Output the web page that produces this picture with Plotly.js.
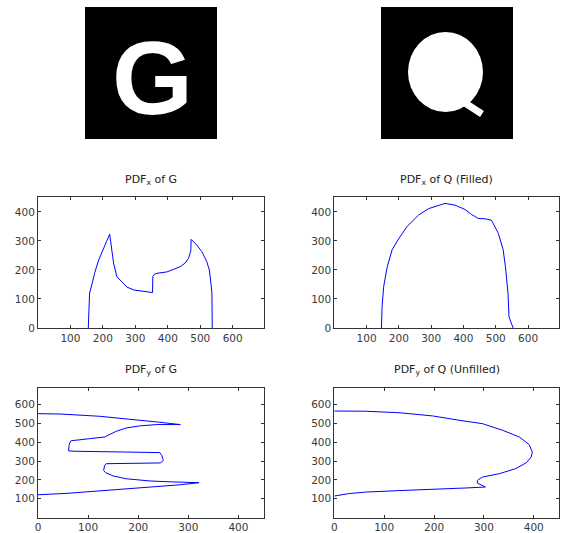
<!DOCTYPE html>
<html>
<head>
<meta charset="utf-8">
<script src="https://cdn.plot.ly/plotly-3.0.1.min.js"></script>
<style>html,body{margin:0;padding:0;background:#fff;}#chart{width:564px;height:533px;}</style>
</head>
<body>
<div id="chart"></div>
<script>
// PDF_x of G
var gxX = [155, 156, 159, 167, 175, 187, 197, 211, 221, 226, 233, 243, 259, 274, 295, 325, 351, 353, 354, 360, 370, 397, 418, 438, 453, 464, 471, 472, 489, 505, 520, 528, 533, 536, 537];
var gxY = [0, 51, 120, 154, 191, 234, 263, 297, 323, 280, 223, 177, 157, 141, 131, 125, 122, 122, 178, 186, 189, 193, 202, 211, 223, 240, 266, 305, 286, 263, 229, 200, 154, 120, 0];
// PDF_x of Q (Filled)
var qxX = [146, 148, 153, 164, 179, 197, 225, 261, 292, 320, 343, 374, 405, 425, 446, 467, 487, 492, 508, 523, 530, 538, 541, 548, 554];
var qxY = [0, 74, 143, 211, 269, 303, 349, 389, 411, 422, 429, 423, 408, 391, 377, 376, 371, 360, 326, 269, 211, 120, 40, 17, 0];
// PDF_y of G
var gyP = [0, 46, 123, 190, 237, 284, 237, 203, 176, 156, 143, 133, 103, 66, 64, 62, 61, 76, 176, 243, 247, 250, 245, 190, 136, 133, 131, 135, 150, 176, 224, 270, 321, 284, 243, 190, 123, 56, 0];
var gyY = [552, 550, 538, 522, 508, 494, 494, 487, 476, 458, 440, 428, 419, 408, 401, 384, 354, 352, 348, 345, 330, 304, 290, 288, 286, 277, 251, 238, 221, 206, 194, 189, 185, 174, 166, 153, 139, 128, 121];
// PDF_y of Q (Unfilled)
var qyP = [0, 62, 130, 197, 250, 297, 338, 371, 391, 397, 395, 385, 364, 331, 297, 287, 287, 297, 303, 264, 197, 130, 62, 29, 0];
var qyY = [566, 565, 557, 540, 517, 499, 463, 428, 387, 348, 322, 291, 260, 233, 215, 197, 183, 167, 162, 157, 148, 143, 135, 127, 114];

var titles = ['PDF<sub>x</sub> of G', 'PDF<sub>x</sub> of Q (Filled)', 'PDF<sub>y</sub> of G', 'PDF<sub>y</sub> of Q (Unfilled)'];
var xTicksRow2 = [100, 200, 300, 400, 500, 600];
var yTicksRow2 = [0, 100, 200, 300, 400];
var xTicksRow3 = [0, 100, 200, 300, 400];
var yTicksRow3 = [100, 200, 300, 400, 500, 600];

var W = 564, H = 533;
function px(x){return x / W;}
function py(y){return (H - y) / H;}

var lineStyle = {color: '#0000ff', width: 1};
var traces = [
  {x: gxX, y: gxY, xaxis: 'x', yaxis: 'y', mode: 'lines', line: lineStyle, hoverinfo: 'skip'},
  {x: qxX, y: qxY, xaxis: 'x2', yaxis: 'y2', mode: 'lines', line: lineStyle, hoverinfo: 'skip'},
  {x: gyP, y: gyY, xaxis: 'x3', yaxis: 'y3', mode: 'lines', line: lineStyle, hoverinfo: 'skip'},
  {x: qyP, y: qyY, xaxis: 'x4', yaxis: 'y4', mode: 'lines', line: lineStyle, hoverinfo: 'skip'},
  {x: [], y: [], xaxis: 'x5', yaxis: 'y5', mode: 'markers', hoverinfo: 'skip'},
  {x: [], y: [], xaxis: 'x6', yaxis: 'y6', mode: 'markers', hoverinfo: 'skip'}
];

var tickFont = {family: 'DejaVu Sans', size: 10.5, color: '#3a3a3a'};
function ax(domain, range, ticks, anchor) {
  return {
    domain: domain, range: range, anchor: anchor,
    tickmode: 'array', tickvals: ticks, ticktext: ticks.map(String),
    ticks: 'inside', ticklen: 3, tickcolor: '#333', tickwidth: 1,
    showline: true, linecolor: '#333', linewidth: 1, mirror: 'allticks',
    showgrid: false, zeroline: false, tickfont: tickFont, fixedrange: true
  };
}
var colL = [px(38), px(263.5)], colR = [px(334.3), px(558.7)];
var row2 = [py(328), py(197.3)], row3 = [py(517.5), py(387.7)];
var hid = function(domain, range, anchor){return {domain: domain, range: range, anchor: anchor, visible: false, fixedrange: true};};

var layout = {
  width: W, height: H,
  margin: {l: 0, r: 0, t: 0, b: 0},
  paper_bgcolor: '#ffffff', plot_bgcolor: 'rgba(0,0,0,0)',
  showlegend: false,
  font: {family: 'DejaVu Sans', color: '#222'},
  xaxis: ax(colL, [0, 695], xTicksRow2, 'y'),
  yaxis: ax(row2, [0, 450], yTicksRow2, 'x'),
  xaxis2: ax(colR, [0, 695], xTicksRow2, 'y2'),
  yaxis2: ax(row2, [0, 450], yTicksRow2, 'x2'),
  xaxis3: ax(colL, [0, 450], xTicksRow3, 'y3'),
  yaxis3: ax(row3, [0, 690], yTicksRow3, 'x3'),
  xaxis4: ax(colR, [0, 450], xTicksRow3, 'y4'),
  yaxis4: ax(row3, [0, 690], yTicksRow3, 'x4'),
  xaxis5: hid([px(85), px(217)], [0, 132], 'y5'),
  yaxis5: hid([py(139), py(7)], [132, 0], 'x5'),
  xaxis6: hid([px(381), px(513)], [0, 132], 'y6'),
  yaxis6: hid([py(139), py(7)], [132, 0], 'x6'),
  shapes: [
    {type: 'rect', xref: 'x5 domain', yref: 'y5 domain', x0: 0, x1: 1, y0: 0, y1: 1, fillcolor: '#000', line: {width: 0}, layer: 'below'},
    {type: 'rect', xref: 'x6 domain', yref: 'y6 domain', x0: 0, x1: 1, y0: 0, y1: 1, fillcolor: '#000', line: {width: 0}, layer: 'below'},
    {type: 'circle', xref: 'x6', yref: 'y6', x0: 27, x1: 102, y0: 25, y1: 105, fillcolor: '#fff', line: {width: 0}},
    {type: 'line', xref: 'x6', yref: 'y6', x0: 84, y0: 96, x1: 101, y1: 107, line: {color: '#fff', width: 7}}
  ],
  annotations: [
    {xref: 'x5', yref: 'y5', x: 67, y: 71, text: 'G', showarrow: false, xanchor: 'center', yanchor: 'middle',
     font: {family: 'Liberation Sans', size: 104, color: '#fff', weight: 'bold'}},
    {xref: 'paper', yref: 'paper', x: px(150.75), y: py(180), text: titles[0], showarrow: false, xanchor: 'center', yanchor: 'middle', font: {family: 'DejaVu Sans', size: 11, color: '#222'}},
    {xref: 'paper', yref: 'paper', x: px(446.5), y: py(180), text: titles[1], showarrow: false, xanchor: 'center', yanchor: 'middle', font: {family: 'DejaVu Sans', size: 11, color: '#222'}},
    {xref: 'paper', yref: 'paper', x: px(150.75), y: py(370), text: titles[2], showarrow: false, xanchor: 'center', yanchor: 'middle', font: {family: 'DejaVu Sans', size: 11, color: '#222'}},
    {xref: 'paper', yref: 'paper', x: px(446.5), y: py(370), text: titles[3], showarrow: false, xanchor: 'center', yanchor: 'middle', font: {family: 'DejaVu Sans', size: 11, color: '#222'}}
  ]
};

Plotly.newPlot('chart', traces, layout, {staticPlot: true, displayModeBar: false});
</script>
</body>
</html>
